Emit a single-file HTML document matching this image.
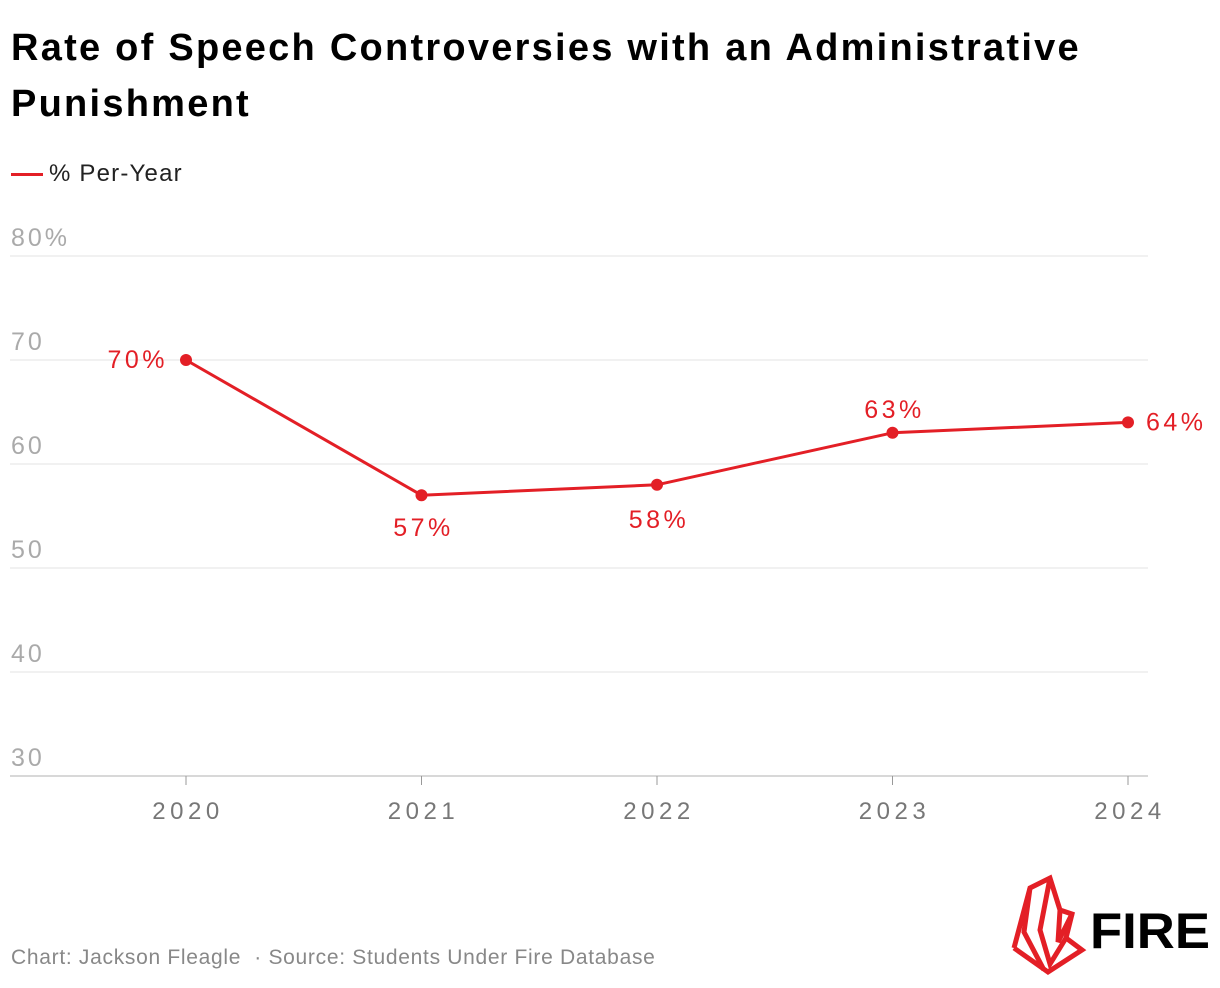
<!DOCTYPE html>
<html><head><meta charset="utf-8"><style>
body{margin:0;background:#fff;width:1220px;height:988px;overflow:hidden;font-family:"Liberation Sans",sans-serif;}
.title{position:absolute;left:11px;top:20px;font-size:38px;font-weight:bold;line-height:56px;color:#000;width:1200px;letter-spacing:2.25px;}
.legend{position:absolute;left:11px;top:160px;font-size:24px;color:#222;letter-spacing:1.2px;}
.legend span{display:inline-block;width:32px;height:3px;background:#e31f26;vertical-align:middle;margin-right:6px;}
.foot{position:absolute;left:11px;top:946px;font-size:21px;color:#888;letter-spacing:0.7px;}
</style></head><body>
<div class="title">Rate of Speech Controversies with an Administrative Punishment</div>
<div class="legend"><span></span>% Per-Year</div>
<svg id="chart" width="1220" height="988" style="position:absolute;left:0;top:0"></svg>
<div class="foot">Chart: Jackson Fleagle &nbsp;· Source: Students Under Fire Database</div>
<svg width="220" height="118" style="position:absolute;left:1000px;top:870px">
<g fill="none" stroke="#e31f26" stroke-width="5" stroke-linejoin="miter">
<polyline points="14,78 30,18 50,8 60,40 72,44 66,68 82,80 48,102 14,78"/>
<polyline points="30,18 24,62 44,100"/>
<polyline points="50,8 40,60 50,94 66,68"/>
<polyline points="60,40 58,72 72,44"/>
</g>
<text x="90" y="78" font-family="Liberation Sans,sans-serif" font-weight="bold" font-size="50" fill="#000" textLength="120" lengthAdjust="spacingAndGlyphs">FIRE</text>
</svg>
<script>
const years=["2020","2021","2022","2023","2024"];
const values=[70,57,58,63,64];
const yTicks=[30,40,50,60,70,80];
const svg=document.getElementById('chart');
const NS='http://www.w3.org/2000/svg';
const x=i=>186+i*235.5;
const y=v=>776-(v-30)*10.4;
function mk(t,a,txt){const e=document.createElementNS(NS,t);for(const k in a)e.setAttribute(k,a[k]);if(txt!=null)e.textContent=txt;svg.appendChild(e);return e;}
yTicks.forEach(v=>{
 const l=mk('line',{x1:10,x2:1148,y1:y(v),y2:y(v),stroke:v===30?'#ccc':'#e3e3e3','stroke-width':v===30?1.5:1});
 
 
 const t=mk('text',{x:11,y:y(v)-10,'font-size':25,fill:'#aaa','font-family':'Liberation Sans,sans-serif','letter-spacing':'3'},v===80?v+'%':String(v));
 
 
});
years.forEach((yr,i)=>{
 const tk=mk('line',{x1:x(i),x2:x(i),y1:776,y2:785,stroke:'#999','stroke-width':1});
 
 
 const t=mk('text',{x:x(i)+2,y:819,'font-size':24,fill:'#777','text-anchor':'middle','font-family':'Liberation Sans,sans-serif','letter-spacing':'4.5'},yr);
 
 
});
const p=mk('polyline',{points:values.map((v,i)=>x(i)+','+y(v)).join(' '),fill:'none',stroke:'#e31f26','stroke-width':3});


const pos=[[-18,8,'end'],[0,41,'middle'],[0,43,'middle'],[0,-15,'middle'],[18,8,'start']];
values.forEach((v,i)=>{
 const c=mk('circle',{cx:x(i),cy:y(v),r:6,fill:'#e31f26'});
 
 
 const t=mk('text',{x:x(i)+pos[i][0]+(pos[i][2]==='middle'?2:0),y:y(v)+pos[i][1],'font-size':25,fill:'#e31f26','text-anchor':pos[i][2],'font-family':'Liberation Sans,sans-serif','letter-spacing':'3.5'},v+'%');
 
 
});
</script>
</body></html>
